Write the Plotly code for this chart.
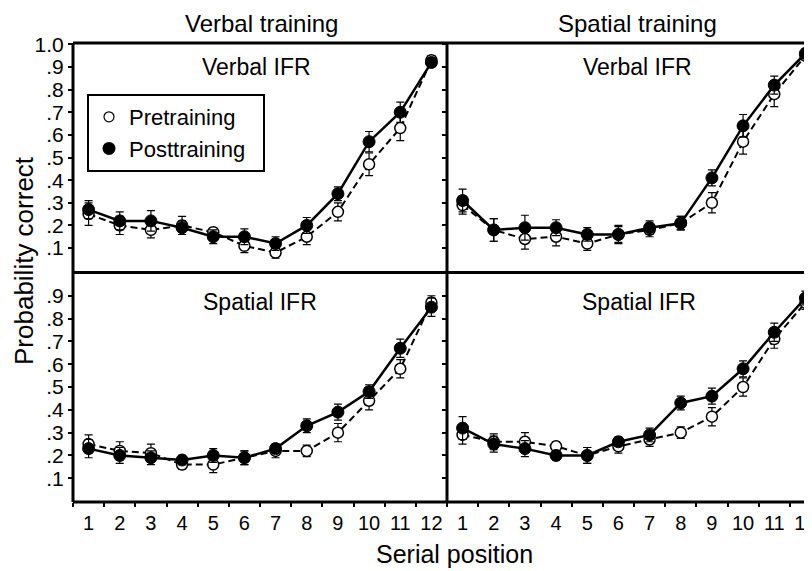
import plotly.graph_objects as go

positions = list(range(1, 13))
tick_labels = [str(p) for p in positions]
y_tick_vals = [0.1, 0.2, 0.3, 0.4, 0.5, 0.6, 0.7, 0.8, 0.9, 1.0]
y_tick_text = [".1", ".2", ".3", ".4", ".5", ".6", ".7", ".8", ".9", "1.0"]

# Verbal training / Verbal IFR
vt_vifr_pre = [0.25, 0.20, 0.18, 0.20, 0.17, 0.11, 0.08, 0.15, 0.26, 0.47, 0.63, 0.93]
vt_vifr_pre_se = [0.05, 0.04, 0.035, 0.04, 0.02, 0.03, 0.025, 0.035, 0.04, 0.05, 0.055, 0.02]
vt_vifr_post = [0.27, 0.22, 0.22, 0.19, 0.15, 0.15, 0.12, 0.20, 0.34, 0.57, 0.70, 0.92]
vt_vifr_post_se = [0.04, 0.04, 0.045, 0.03, 0.03, 0.035, 0.03, 0.035, 0.03, 0.045, 0.045, 0.02]

# Spatial training / Verbal IFR
st_vifr_pre = [0.29, 0.18, 0.14, 0.15, 0.12, 0.16, 0.18, 0.21, 0.30, 0.57, 0.78, 0.95]
st_vifr_pre_se = [0.04, 0.05, 0.045, 0.04, 0.03, 0.04, 0.03, 0.03, 0.045, 0.055, 0.055, 0.02]
st_vifr_post = [0.31, 0.18, 0.19, 0.19, 0.16, 0.16, 0.19, 0.21, 0.41, 0.64, 0.82, 0.96]
st_vifr_post_se = [0.05, 0.05, 0.055, 0.035, 0.03, 0.035, 0.03, 0.03, 0.035, 0.05, 0.04, 0.02]

# Verbal training / Spatial IFR
vt_sifr_pre = [0.25, 0.22, 0.21, 0.16, 0.16, 0.19, 0.22, 0.22, 0.30, 0.44, 0.58, 0.87]
vt_sifr_pre_se = [0.04, 0.04, 0.04, 0.02, 0.035, 0.03, 0.03, 0.025, 0.04, 0.04, 0.04, 0.03]
vt_sifr_post = [0.23, 0.20, 0.19, 0.18, 0.20, 0.19, 0.23, 0.33, 0.39, 0.48, 0.67, 0.85]
vt_sifr_post_se = [0.04, 0.035, 0.03, 0.02, 0.03, 0.03, 0.02, 0.03, 0.035, 0.03, 0.04, 0.04]

# Spatial training / Spatial IFR
st_sifr_pre = [0.29, 0.26, 0.26, 0.24, 0.20, 0.24, 0.27, 0.30, 0.37, 0.50, 0.71, 0.87]
st_sifr_pre_se = [0.04, 0.035, 0.04, 0.02, 0.035, 0.03, 0.03, 0.025, 0.04, 0.04, 0.04, 0.03]
st_sifr_post = [0.32, 0.25, 0.23, 0.20, 0.20, 0.26, 0.29, 0.43, 0.46, 0.58, 0.74, 0.89]
st_sifr_post_se = [0.05, 0.035, 0.035, 0.02, 0.035, 0.02, 0.03, 0.03, 0.035, 0.035, 0.04, 0.03]

FONT = "Liberation Sans, Arial, sans-serif"

fig = go.Figure()

panels = [
    ("x3", "y3", vt_vifr_pre, vt_vifr_pre_se, vt_vifr_post, vt_vifr_post_se),
    ("x4", "y4", st_vifr_pre, st_vifr_pre_se, st_vifr_post, st_vifr_post_se),
    ("x", "y", vt_sifr_pre, vt_sifr_pre_se, vt_sifr_post, vt_sifr_post_se),
    ("x2", "y2", st_sifr_pre, st_sifr_pre_se, st_sifr_post, st_sifr_post_se),
]

for xa, ya, pre, pre_se, post, post_se in panels:
    fig.add_trace(go.Scatter(
        x=positions, y=pre, xaxis=xa, yaxis=ya, mode="lines+markers",
        line=dict(color="black", width=2, dash="7px,4px"),
        marker=dict(symbol="circle", size=11, color="white",
                    line=dict(color="black", width=1.5)),
        error_y=dict(type="data", array=pre_se, color="black", thickness=1.2, width=4),
        showlegend=False, cliponaxis=False,
    ))
    fig.add_trace(go.Scatter(
        x=positions, y=post, xaxis=xa, yaxis=ya, mode="lines+markers",
        line=dict(color="black", width=2.5),
        marker=dict(symbol="circle", size=12, color="black",
                    line=dict(color="black", width=1)),
        error_y=dict(type="data", array=post_se, color="black", thickness=1.2, width=4),
        showlegend=False, cliponaxis=False,
    ))

# legend entries
fig.add_trace(go.Scatter(x=[None], y=[None], mode="markers",
                         name="Pretraining\u00a0\u00a0",
                         marker=dict(symbol="circle", size=10, color="white",
                                     line=dict(color="black", width=1.2)),
                         xaxis="x3", yaxis="y3"))
fig.add_trace(go.Scatter(x=[None], y=[None], mode="markers",
                         name="Posttraining\u00a0\u00a0",
                         marker=dict(symbol="circle", size=13, color="black"),
                         xaxis="x3", yaxis="y3"))

# page body has an 8px margin: shift the figure so the plot lands where the reference has it
OFF = 8
REF_W, REF_H = 812, 571
REF_LEFT, REF_TOP, REF_BOTTOM, REF_SPLIT = 73, 43, 502, 447
W, H = REF_W - OFF, REF_H - OFF
ML, MT, MB, MR = REF_LEFT - OFF, REF_TOP - OFF, REF_H - REF_BOTTOM, 0
PW = W - ML - MR
PH = H - MT - MB
split_x = (REF_SPLIT - REF_LEFT) / PW
left_range = [0.5, 12.5]
scale = (REF_SPLIT - REF_LEFT) / 12.0
right_range = [0.5, 0.5 + (REF_W - REF_SPLIT) / scale]

top_range = [-0.008, 1.006]
bot_range = [-0.004, 1.002]

xbase = dict(showgrid=False, zeroline=False, showline=False, tickmode="array",
             tickvals=positions, ticktext=tick_labels, ticks="outside", ticklen=3,
             tickcolor="rgba(0,0,0,0)", ticklabeloverflow="allow",
             tickfont=dict(family=FONT, size=20, color="black"),
             minor=dict(tick0=0.5, dtick=1, ticks="outside", ticklen=4,
                        tickwidth=2, tickcolor="black", showgrid=False),
             automargin=False)
xtop = dict(showgrid=False, zeroline=False, showline=False, showticklabels=False,
            ticks="", automargin=False)
ybase = dict(showgrid=False, zeroline=False, showline=False, tickmode="array",
             ticks="outside", ticklen=4, tickwidth=2, tickcolor="black",
             tickfont=dict(family=FONT, size=21, color="black"), automargin=False)

fig.update_layout(
    width=W, height=H,
    margin=dict(l=ML, r=MR, t=MT, b=MB, pad=0),
    plot_bgcolor="white", paper_bgcolor="white",
    font=dict(family=FONT, color="black"),
    xaxis=dict(xbase, domain=[0, split_x], range=left_range, anchor="y"),
    xaxis2=dict(xbase, domain=[split_x, 1], range=right_range, anchor="y2"),
    xaxis3=dict(xtop, domain=[0, split_x], range=left_range, anchor="y3"),
    xaxis4=dict(xtop, domain=[split_x, 1], range=right_range, anchor="y4"),
    yaxis=dict(ybase, domain=[0, 0.5], range=bot_range, anchor="x",
               tickvals=y_tick_vals[:9], ticktext=y_tick_text[:9]),
    yaxis2=dict(ybase, domain=[0, 0.5], range=bot_range, anchor="x2",
                tickvals=y_tick_vals[:9], showticklabels=False),
    yaxis3=dict(ybase, domain=[0.5, 1], range=top_range, anchor="x3",
                tickvals=y_tick_vals, ticktext=y_tick_text),
    yaxis4=dict(ybase, domain=[0.5, 1], range=top_range, anchor="x4",
                tickvals=y_tick_vals, showticklabels=False),
    legend=dict(x=(87 - REF_LEFT) / PW, y=(REF_BOTTOM - 94) / PH,
                xanchor="left", yanchor="top",
                bordercolor="black", borderwidth=2, bgcolor="white",
                font=dict(family=FONT, size=22, color="black"),
                tracegroupgap=0, itemwidth=30),
)

# panel borders
border = dict(type="line", xref="paper", yref="paper",
              line=dict(color="black", width=3), layer="above")
fig.add_shape(border, x0=0, x1=1, y0=1, y1=1)
fig.add_shape(border, x0=0, x1=1, y0=0.5, y1=0.5)
fig.add_shape(border, x0=0, x1=1, y0=0, y1=0)
fig.add_shape(border, x0=0, x1=0, y0=0, y1=1)
fig.add_shape(border, x0=split_x, x1=split_x, y0=0, y1=1)

def px_x(px):
    return (px - REF_LEFT) / PW

def px_y(py):
    return (REF_BOTTOM - py) / PH

annos = [
    ("Verbal training", 261, 23, 24, 0),
    ("Spatial training", 637, 23, 24, 0),
    ("Verbal IFR", 256, 67, 23, 0),
    ("Verbal IFR", 637, 67, 23, 0),
    ("Spatial IFR", 260, 302, 23, 0),
    ("Spatial IFR", 639, 302, 23, 0),
    ("Serial position", 454, 554, 25, 0),
    ("Probability correct", 24, 261, 26, -90),
]
for text, ax, ay, size, ang in annos:
    fig.add_annotation(text=text, x=px_x(ax), y=px_y(ay), xref="paper", yref="paper",
                       xanchor="center", yanchor="middle", showarrow=False,
                       textangle=ang, font=dict(family=FONT, size=size, color="black"))

fig.write_html("out.html")
